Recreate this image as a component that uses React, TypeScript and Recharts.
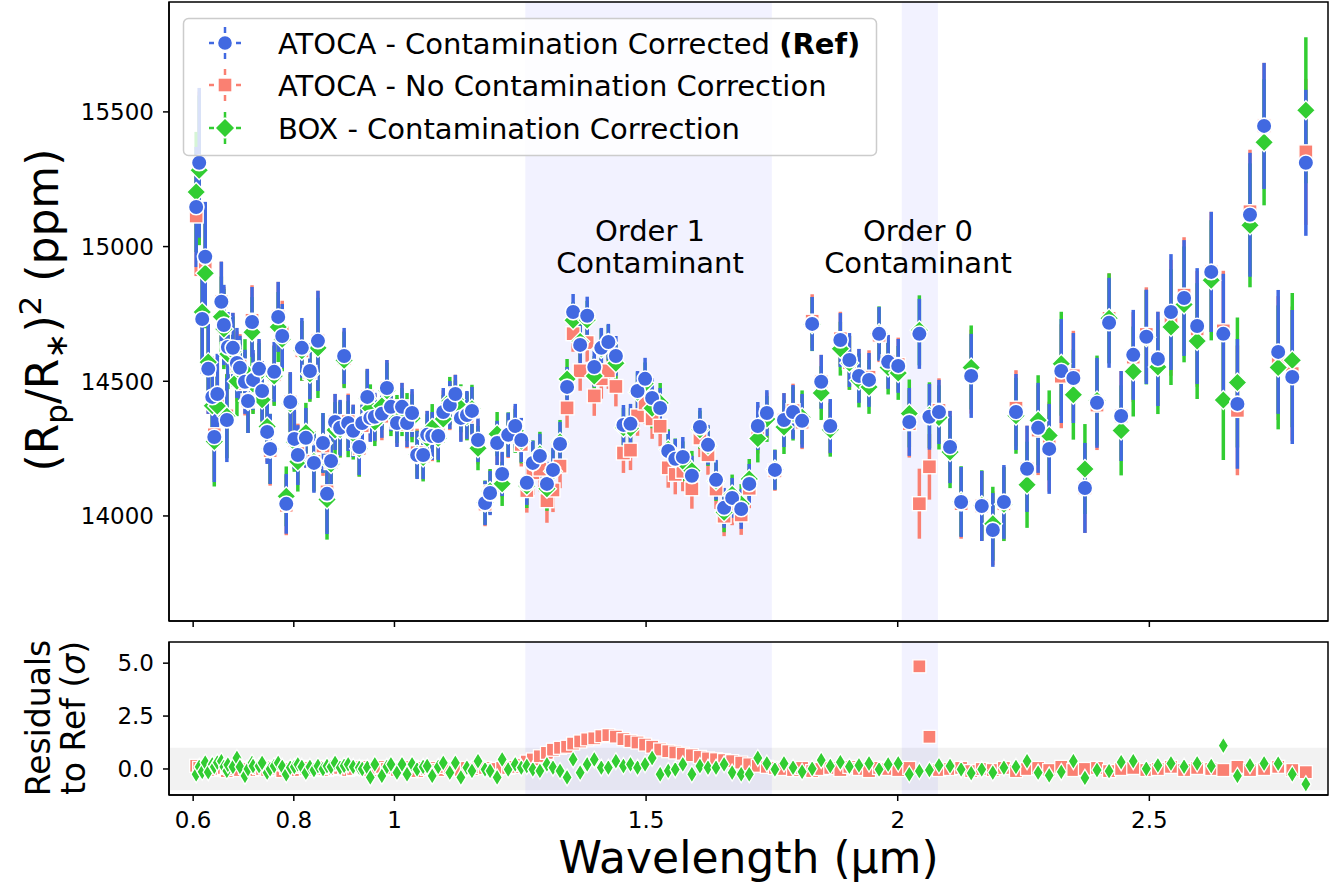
import React from 'react';
import { ScatterChart, Scatter, XAxis, YAxis, ErrorBar, ReferenceArea } from 'recharts';

const BLUE = '#4169E1';
const RED = '#FA8072';
const GREEN = '#32CD32';
const FONT = 'DejaVu Sans';

// Wavelength bins (µm)
const wavelength = [
  0.606, 0.612, 0.618, 0.624, 0.630, 0.638, 0.642, 0.648, 0.656, 0.661,
  0.667, 0.669, 0.679, 0.687, 0.693, 0.703, 0.709, 0.717, 0.719, 0.731,
  0.737, 0.747, 0.753, 0.761, 0.769, 0.777, 0.785, 0.793, 0.801, 0.808,
  0.816, 0.824, 0.832, 0.840, 0.848, 0.858, 0.866, 0.874, 0.882, 0.892,
  0.900, 0.908, 0.918, 0.930, 0.936, 0.946, 0.952, 0.961, 0.975, 0.985,
  0.993, 1.005, 1.015, 1.025, 1.035, 1.045, 1.057, 1.065, 1.075, 1.087,
  1.097, 1.110, 1.121, 1.132, 1.144, 1.154, 1.166, 1.180, 1.190, 1.204,
  1.214, 1.226, 1.240, 1.252, 1.263, 1.275, 1.289, 1.303, 1.315, 1.329,
  1.343, 1.355, 1.369, 1.383, 1.397, 1.411, 1.425, 1.440, 1.455, 1.469,
  1.483, 1.498, 1.512, 1.528, 1.544, 1.558, 1.573, 1.591, 1.607, 1.623,
  1.639, 1.655, 1.671, 1.689, 1.705, 1.722, 1.740, 1.756, 1.774, 1.792,
  1.810, 1.830, 1.848, 1.866, 1.886, 1.904, 1.923, 1.943, 1.963, 1.981,
  2.001, 2.023, 2.043, 2.063, 2.082, 2.104, 2.126, 2.146, 2.167, 2.189,
  2.211, 2.235, 2.257, 2.279, 2.301, 2.325, 2.349, 2.372, 2.396, 2.420,
  2.444, 2.468, 2.494, 2.517, 2.543, 2.569, 2.595, 2.623, 2.647, 2.675,
  2.700, 2.728, 2.756, 2.784, 2.811,
];

// ATOCA - contamination corrected (reference) transit depth (ppm)
const refDepth = [
  15147, 15311, 14731, 14962, 14546, 14442, 14293, 14453, 14795, 14709,
  14356, 14627, 14624, 14568, 14550, 14498, 14427, 14720, 14505, 14546,
  14464, 14312, 14249, 14535, 14739, 14668, 14045, 14423, 14286, 14226,
  14624, 14290, 14538, 14197, 14650, 14271, 14082, 14204, 14349, 14327,
  14594, 14345, 14316, 14256, 14345, 14442, 14364, 14368, 14379, 14475,
  14405, 14345, 14405, 14345, 14382, 14226, 14226, 14301, 14297, 14297,
  14386, 14412, 14453, 14364, 14375, 14390, 14282, 14048, 14085, 14271,
  14156, 14301, 14334, 14282, 14123, 14197, 14223, 14119, 14171, 14267,
  14479, 14757, 14635, 14743, 14553, 14624, 14646, 14594, 14338, 14342,
  14464, 14509, 14438, 14401, 14241, 14212, 14219, 14149, 14330, 14264,
  14134, 14030, 14067, 14026, 14119, 14334, 14382, 14171, 14356, 14386,
  14353, 14713, 14498, 14334, 14653, 14579, 14520, 14505, 14676, 14572,
  14557, 14349, 14676, 14368, 14386, 14256, 14052, 14520, 14037, 13948,
  14052, 14386, 14175, 14327, 14249, 14538, 14512, 14104, 14420, 14717,
  14371, 14598, 14665, 14583, 14757, 14809, 14705, 14906, 14676, 14416,
  15118, 15448, 14609, 14516, 15311,
];

// 1-sigma uncertainty (ppm)
const depthErr = [
  223, 278, 204, 204, 167, 149, 167, 149, 149, 149,
  156, 130, 130, 130, 119, 119, 119, 130, 111, 111,
  111, 119, 130, 111, 130, 119, 111, 111, 111, 111,
  111, 111, 104, 111, 186, 111, 149, 111, 104, 104,
  104, 104, 97, 104, 97, 104, 89, 89, 89, 104,
  89, 89, 89, 89, 89, 89, 89, 89, 89, 89,
  89, 89, 71, 89, 89, 89, 82, 82, 82, 82,
  82, 82, 82, 82, 82, 82, 82, 82, 82, 82,
  74, 67, 74, 71, 74, 74, 67, 74, 74, 74,
  74, 78, 74, 74, 74, 74, 74, 74, 71, 74,
  74, 74, 74, 74, 74, 89, 85, 74, 100, 100,
  100, 100, 100, 100, 100, 100, 100, 100, 100, 100,
  100, 126, 130, 122, 119, 134, 130, 156, 130, 137,
  137, 141, 160, 167, 167, 193, 167, 167, 167, 167,
  167, 167, 175, 175, 215, 215, 215, 223, 223, 241,
  230, 234, 230, 249, 271,
];

// Residuals to Ref (sigma): ATOCA without contamination correction
const noCorrResid = [
  0.15, 0.05, -0.05, 0.1, 0, 0.05, -0.05, 0.1, 0, 0.05,
  -0.1, 0.05, 0, 0.1, -0.05, 0.05, 0, -0.05, 0.1, 0.05,
  0, -0.05, 0.05, 0.1, 0, -0.1, 0.05, 0, 0.05, -0.05,
  0.1, 0, 0.05, -0.05, 0, 0.1, -0.05, 0.05, 0, 0.05,
  0.1, -0.05, 0, 0.05, 0.1, 0, -0.05, 0.05, 0.1, 0,
  0.05, -0.05, 0, 0.05, 0.1, -0.1, 0.05, 0, 0.05, -0.05,
  0.1, 0.05, 0, -0.05, 0.05, 0, 0.1, 0.05, -0.05, 0,
  0.05, 0.05, 0.1, 0.2, 0.35, 0.45, 0.6, 0.76, 0.91, 1.0,
  1.05, 1.2, 1.3, 1.4, 1.45, 1.55, 1.6, 1.53, 1.41, 1.32,
  1.25, 1.15, 1.05, 0.92, 0.84, 0.78, 0.72, 0.65, 0.57, 0.5,
  0.46, 0.42, 0.37, 0.3, 0.22, 0.15, 0.1, 0.05, 0, -0.05,
  0.05, -0.1, 0, 0.05, -0.05, 0.1, 0, -0.1, 0.05, 0,
  -0.05, 0.05, 4.85, 1.52, -0.05, 0, 0.05, -0.1, 0, -0.05,
  0.05, -0.1, 0, 0.05, -0.05, 0.1, -0.05, 0, 0.05, -0.1,
  0, 0.05, -0.05, 0, 0.1, -0.05, 0.05, 0, -0.05, 0.1,
  -0.05, 0, 0.1, -0.05, -0.15,
];

// Residuals to Ref (sigma): BOX extraction with contamination correction
const boxResid = [
  -0.25, 0.1, -0.13, 0.3, -0.15, 0.22, 0.1, 0.3, 0.37, 0.1,
  -0.09, 0.2, 0.1, 0.52, 0.1, -0.33, 0.0, 0.29, 0.14, 0.14,
  0.29, -0.17, 0.0, 0.14, 0.29, 0.1, -0.25, 0.06, 0.1, 0.22,
  0.1, -0.17, 0.1, -0.05, 0.14, 0.0, 0.14, 0.1, 0.29, 0.06,
  0.15, 0.22, 0.1, 0.06, 0.0, 0.06, -0.4, 0.22, -0.33, 0.1,
  0.22, -0.17, 0.22, -0.25, 0.22, -0.02, 0.1, 0.14, -0.33, 0.1,
  0.29, -0.17, 0.29, -0.4, 0.06, -0.09, 0.37, -0.02, -0.09, -0.4,
  0.45, -0.02, 0.22, 0.06, 0.14, -0.02, -0.09, 0.22, 0.06, -0.09,
  -0.4, 0.45, -0.17, 0.22, 0.45, 0.06, 0.06, 0.37, 0.14, 0.22,
  0.06, 0.22, 0.52, -0.25, -0.09, -0.02, 0.22, -0.25, 0.14, 0.06,
  0.06, 0.22, -0.17, -0.25, -0.25, 0.52, 0.26, -0.02, 0.26, 0.06,
  -0.13, 0.01, 0.42, 0.14, 0.32, 0.11, 0.17, 0.26, -0.02, 0.21,
  0.26, -0.25, -0.1, -0.05, 0.17, 0.14, -0.02, -0.2, -0.02, -0.17,
  0.06, 0.1, 0.37, -0.17, -0.3, -0.14, 0.37, -0.42, -0.05, -0.1,
  0.32, 0.37, 0.01, 0.17, 0.26, 0.11, 0.26, 0.14, 1.1, -0.33,
  0.17, 0.26, 0.25, -0.25, -0.72,
];

const xTicks = [0.6, 0.8, 1, 1.5, 2, 2.5];
const depthTicks = [14000, 14500, 15000, 15500];
const residTicks = [0, 2.5, 5];
const order1Band = [1.26, 1.75];
const order0Band = [2.008, 2.08];
const residBand = [-1, 1];

const X_DOMAIN: [number, number] = [0.552, 2.855];
const DEPTH_DOMAIN: [number, number] = [13610, 15908];
const RESID_DOMAIN: [number, number] = [-1.23, 6.0];

const refData = wavelength.map((x, i) => ({ x, y: refDepth[i], err: depthErr[i] }));
const noCorrData = wavelength.map((x, i) => ({ x, y: refDepth[i] - noCorrResid[i] * depthErr[i], err: depthErr[i] }));
const boxData = wavelength.map((x, i) => ({ x, y: refDepth[i] - boxResid[i] * depthErr[i], err: depthErr[i] }));
const noCorrResData = wavelength.map((x, i) => ({ x, y: noCorrResid[i] }));
const boxResData = wavelength.map((x, i) => ({ x, y: boxResid[i] }));

const BlueDot = (p: any) =>
  p.cx == null ? <g /> : <circle cx={p.cx} cy={p.cy} r={7.8} fill={BLUE} stroke="#fff" strokeWidth={1.6} />;
const RedSquare = (p: any) =>
  p.cx == null ? <g /> : <rect x={p.cx - 7} y={p.cy - 7} width={14} height={14} fill={RED} stroke="#fff" strokeWidth={1.4} />;
const GreenDiamond = (p: any) =>
  p.cx == null ? <g /> : (
    <polygon
      points={`${p.cx},${p.cy - 9.5} ${p.cx + 9.5},${p.cy} ${p.cx},${p.cy + 9.5} ${p.cx - 9.5},${p.cy}`}
      fill={GREEN} stroke="#fff" strokeWidth={1.4}
    />
  );
const RedSquareSmall = (p: any) =>
  p.cx == null ? <g /> : <rect x={p.cx - 6.5} y={p.cy - 6.5} width={13} height={13} fill={RED} stroke="#fff" strokeWidth={1.3} />;
const GreenThin = (p: any) =>
  p.cx == null ? <g /> : (
    <polygon
      points={`${p.cx},${p.cy - 8.5} ${p.cx + 5.2},${p.cy} ${p.cx},${p.cy + 8.5} ${p.cx - 5.2},${p.cy}`}
      fill={GREEN} stroke="#fff" strokeWidth={1.3}
    />
  );

const TICK_FONT = 23;
const EmptyTick = () => <g />;
const XTick = (p: any) => (
  <text x={p.x} y={p.y} dy="0.71em" textAnchor="middle" fontSize={TICK_FONT} fontFamily={FONT} fill="#000">
    {String(p.payload.value)}
  </text>
);
const DepthTick = (p: any) => (
  <text x={p.x} y={p.y} dy="0.36em" textAnchor="end" fontSize={TICK_FONT} fontFamily={FONT} fill="#000">
    {String(p.payload.value)}
  </text>
);
const ResidTick = (p: any) => (
  <text x={p.x} y={p.y} dy="0.36em" textAnchor="end" fontSize={TICK_FONT} fontFamily={FONT} fill="#000">
    {Number(p.payload.value).toFixed(1)}
  </text>
);
const axisLineStyle = { stroke: '#000', strokeWidth: 1.5 };
const tickLineStyle = { stroke: '#000', strokeWidth: 1.5 };

function LegendMarker({ y, color, kind }: { y: number; color: string; kind: string }) {
  const x = 225;
  let m: React.ReactNode;
  if (kind === 'circle') m = <circle cx={x} cy={y} r={7.5} fill={color} stroke="#fff" strokeWidth={1.4} />;
  else if (kind === 'square') m = <rect x={x - 7} y={y - 7} width={14} height={14} fill={color} stroke="#fff" strokeWidth={1.4} />;
  else m = <polygon points={`${x},${y - 10} ${x + 10},${y} ${x},${y + 10} ${x - 10},${y}`} fill={color} stroke="#fff" strokeWidth={1.4} />;
  return (
    <g>
      <line x1={x} y1={y - 16} x2={x} y2={y - 10} stroke={color} strokeWidth={2.5} />
      <line x1={x} y1={y + 10} x2={x} y2={y + 16} stroke={color} strokeWidth={2.5} />
      <line x1={x - 16} y1={y} x2={x - 11} y2={y} stroke={color} strokeWidth={2.5} />
      <line x1={x + 11} y1={y} x2={x + 16} y2={y} stroke={color} strokeWidth={2.5} />
      {m}
    </g>
  );
}

export default function App() {
  return (
    <div style={{ position: 'absolute', left: 0, top: 0, width: 1339, height: 892, background: '#fff', fontFamily: FONT }}>
      <div style={{ position: 'absolute', left: 0, top: 0 }}>
        <ScatterChart width={1339} height={639} margin={{ top: 2, right: 11, bottom: 0, left: 0 }}>
          <XAxis type="number" dataKey="x" domain={X_DOMAIN} ticks={xTicks} allowDataOverflow height={18}
            tick={EmptyTick} tickSize={6} axisLine={axisLineStyle} tickLine={tickLineStyle} />
          <YAxis type="number" dataKey="y" domain={DEPTH_DOMAIN} ticks={depthTicks} allowDataOverflow width={169}
            tickSize={6} tickMargin={9} tick={DepthTick} axisLine={axisLineStyle} tickLine={tickLineStyle} />
          <ReferenceArea x1={order1Band[0]} x2={order1Band[1]} fill="#0000ff" fillOpacity={0.05} stroke="none" />
          <ReferenceArea x1={order0Band[0]} x2={order0Band[1]} fill="#0000ff" fillOpacity={0.05} stroke="none" />
          <Scatter name="ATOCA - No Contamination Correction" data={noCorrData} shape={RedSquare} isAnimationActive={false}>
            <ErrorBar dataKey="err" direction="y" width={0} stroke={RED} strokeWidth={3.5} />
          </Scatter>
          <Scatter name="BOX - Contamination Correction" data={boxData} shape={GreenDiamond} isAnimationActive={false}>
            <ErrorBar dataKey="err" direction="y" width={0} stroke={GREEN} strokeWidth={3.5} />
          </Scatter>
          <Scatter name="ATOCA - Contamination Corrected (Ref)" data={refData} shape={BlueDot} isAnimationActive={false}>
            <ErrorBar dataKey="err" direction="y" width={0} stroke={BLUE} strokeWidth={3.5} />
          </Scatter>
          <ReferenceArea x1={X_DOMAIN[0]} x2={X_DOMAIN[1]} y1={DEPTH_DOMAIN[0]} y2={DEPTH_DOMAIN[1]}
            fill="none" stroke="#000" strokeWidth={1.5} ifOverflow="visible" />
        </ScatterChart>
      </div>
      <div style={{ position: 'absolute', left: 0, top: 640 }}>
        <ScatterChart width={1339} height={215} margin={{ top: 2, right: 11, bottom: 0, left: 0 }}>
          <XAxis type="number" dataKey="x" domain={X_DOMAIN} ticks={xTicks} allowDataOverflow height={60}
            tickSize={6} tickMargin={11} tick={XTick} axisLine={axisLineStyle} tickLine={tickLineStyle} />
          <YAxis type="number" dataKey="y" domain={RESID_DOMAIN} ticks={residTicks} allowDataOverflow width={169}
            tickSize={6} tickMargin={9} tick={ResidTick} axisLine={axisLineStyle} tickLine={tickLineStyle} />
          <ReferenceArea y1={residBand[0]} y2={residBand[1]} fill="#000" fillOpacity={0.05} stroke="none" />
          <ReferenceArea x1={order1Band[0]} x2={order1Band[1]} fill="#0000ff" fillOpacity={0.05} stroke="none" />
          <ReferenceArea x1={order0Band[0]} x2={order0Band[1]} fill="#0000ff" fillOpacity={0.05} stroke="none" />
          <Scatter data={noCorrResData} shape={RedSquareSmall} isAnimationActive={false} />
          <Scatter data={boxResData} shape={GreenThin} isAnimationActive={false} />
          <ReferenceArea x1={X_DOMAIN[0]} x2={X_DOMAIN[1]} y1={RESID_DOMAIN[0]} y2={RESID_DOMAIN[1]}
            fill="none" stroke="#000" strokeWidth={1.5} ifOverflow="visible" />
        </ScatterChart>
      </div>
      <svg width={1339} height={892} style={{ position: 'absolute', left: 0, top: 0, pointerEvents: 'none' }}
        fontFamily={FONT}>
        {/* legend */}
        <rect x={183.5} y={18.5} width={693} height={137} rx={5} fill="#fff" fillOpacity={0.8} stroke="#cccccc" strokeWidth={1.5} />
        <LegendMarker y={43} color={BLUE} kind="circle" />
        <LegendMarker y={85} color={RED} kind="square" />
        <LegendMarker y={128} color={GREEN} kind="diamond" />
        <text x={278} y={53.5} fontSize={29} fill="#000">
          ATOCA - Contamination Corrected <tspan fontWeight="bold">(Ref)</tspan>
        </text>
        <text x={278} y={95.5} fontSize={29} fill="#000">ATOCA - No Contamination Correction</text>
        <text x={278} y={138.5} fontSize={29} fill="#000">BOX - Contamination Correction</text>
        {/* annotations */}
        <text x={650} y={241} fontSize={29} textAnchor="middle" fill="#000">Order 1</text>
        <text x={650} y={273} fontSize={29} textAnchor="middle" fill="#000">Contaminant</text>
        <text x={918} y={241} fontSize={29} textAnchor="middle" fill="#000">Order 0</text>
        <text x={918} y={273} fontSize={29} textAnchor="middle" fill="#000">Contaminant</text>
        {/* axis titles */}
        <text transform="translate(58,310) rotate(-90)" fontSize={44} textAnchor="middle" fill="#000">
          (R<tspan fontSize={31} dy={9}>p</tspan><tspan dy={-9}>/R</tspan><tspan fontSize={31} dy={9}>∗</tspan><tspan dy={-9}>)</tspan><tspan fontSize={31} dy={-17}>2</tspan><tspan dy={17}> (ppm)</tspan>
        </text>
        <text transform="translate(50,718) rotate(-90)" fontSize={33} textAnchor="middle" fill="#000">Residuals</text>
        <text transform="translate(85,718) rotate(-90)" fontSize={33} textAnchor="middle" fill="#000">
          to Ref (<tspan fontStyle="italic">σ</tspan>)
        </text>
        <text x={748.5} y={873} fontSize={44} textAnchor="middle" fill="#000">Wavelength (µm)</text>
      </svg>
    </div>
  );
}
